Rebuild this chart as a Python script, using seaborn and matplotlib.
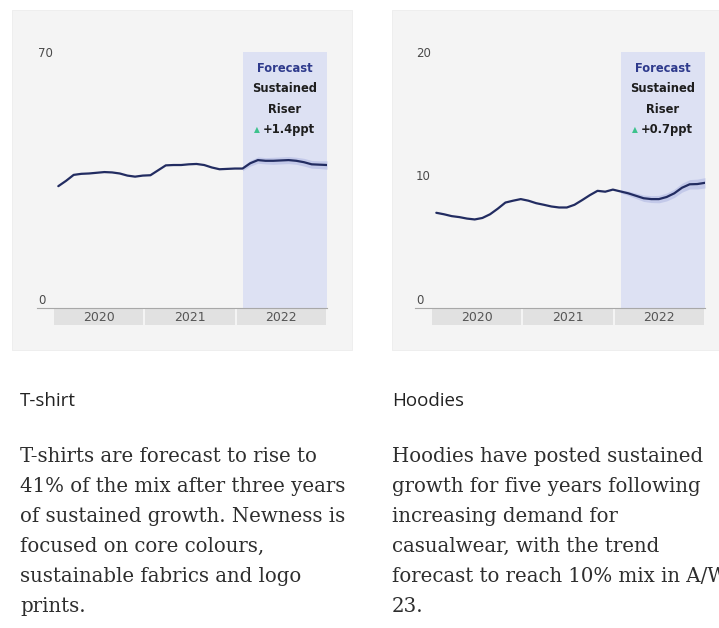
import numpy as np
import pandas as pd
import matplotlib
matplotlib.use("Agg")
import matplotlib.pyplot as plt
from matplotlib.patches import Rectangle
import seaborn as sns

# ---- data -------------------------------------------------------------
years = ["2020", "2021", "2022"]

tshirt_share = [32.3, 33.8, 35.5, 35.8, 35.9, 36.1, 36.3, 36.2, 35.9, 35.3,
                35.0, 35.3, 35.4, 36.8, 38.2, 38.3, 38.3, 38.5, 38.6, 38.3,
                37.6, 37.1, 37.2, 37.3, 37.3, 38.8, 39.7, 39.5, 39.5, 39.6,
                39.7, 39.5, 39.1, 38.5, 38.4, 38.3]
tshirt_spread = [0.6, 0.8, 0.9, 0.9, 1.0, 1.0, 1.0, 1.0, 1.1, 1.1, 1.1, 1.2]

hoodie_share = [7.07, 6.95, 6.80, 6.72, 6.60, 6.53, 6.65, 6.95, 7.40, 7.90,
                8.05, 8.18, 8.05, 7.85, 7.72, 7.58, 7.50, 7.50, 7.72, 8.10,
                8.50, 8.85, 8.78, 8.95, 8.80, 8.65, 8.45, 8.25, 8.18, 8.18,
                8.35, 8.65, 9.10, 9.38, 9.40, 9.50]
hoodie_spread = [0.12, 0.18, 0.22, 0.26, 0.28, 0.30, 0.32, 0.34, 0.36, 0.38, 0.40, 0.42]

tshirt_ticks = [0, 70]
hoodie_ticks = [0, 10, 20]
tshirt_change = "+1.4ppt"
hoodie_change = "+0.7ppt"

titles = ["T-shirt", "Hoodies"]
tshirt_text = ["T-shirts are forecast to rise to",
               "41% of the mix after three years",
               "of sustained growth. Newness is",
               "focused on core colours,",
               "sustainable fabrics and logo",
               "prints."]
hoodie_text = ["Hoodies have posted sustained",
               "growth for five years following",
               "increasing demand for",
               "casualwear, with the trend",
               "forecast to reach 10% mix in A/W",
               "23."]

# ---- style --------------------------------------------------------------
sns.set_theme(style="white")
plt.rcParams["font.family"] = ["DejaVu Sans"]

W, H = 719, 628
fig = plt.figure(figsize=(W / 100, H / 100), dpi=100)
fig.patch.set_facecolor("white")

LINE = "#222c61"
SHADE = "#dde1f3"
BAND = "#aeb6e2"
NAVY = "#2e3a8c"
GREEN = "#3cc28c"
PANEL = "#f4f4f4"
YEARBOX = "#e1e1e1"

months = np.linspace(0.7, 36, 36)   # month index, 0 = start of 2020
fc_start = 24.93                     # forecast period begins early 2022
fc_idx = 24
PX_PER_MONTH = 290 / 38.1


def fx(x):
    return x / W


def fy(y):
    return 1 - y / H


def panel(x0, x1):
    fig.patches.append(Rectangle((fx(x0), fy(350)), fx(x1) - fx(x0), fy(10) - fy(350),
                                 transform=fig.transFigure, facecolor=PANEL,
                                 edgecolor="#ececec", lw=0.6, zorder=-5))


def chart(x0, values, spread, ticks, zero_px, top_px, change):
    ax = fig.add_axes([fx(x0), fy(308), fx(290), (308 - 52) / H])
    ax.set_facecolor("none")
    ax.set_zorder(2)
    # y scale: tick labels sit centred on rows zero_px and top_px
    vmax = ticks[-1]
    ppu = (zero_px - top_px) / vmax
    ax.set_ylim(-(308 - zero_px) / ppu, vmax + (top_px - 52) / ppu)
    ax.set_xlim(-2.1, 36)

    ax.axvspan(fc_start, 36, color=SHADE, lw=0, zorder=1)
    fx_m = months[fc_idx:]
    fv = np.array(values[fc_idx:])
    sp = np.array(spread)
    ax.fill_between(fx_m, fv - sp, fv + sp, color=BAND, alpha=0.55, lw=0, zorder=2)

    df = pd.DataFrame({"month": months, "share": values})
    sns.lineplot(data=df, x="month", y="share", ax=ax, color=LINE, lw=1.6, zorder=3)

    ax.set_xticks([])
    ax.set_yticks([])
    ax.set_xlabel("")
    ax.set_ylabel("")
    for s in ["top", "right", "left"]:
        ax.spines[s].set_visible(False)
    ax.spines["bottom"].set_color("#a8a8a8")
    ax.spines["bottom"].set_linewidth(0.8)

    tr = ax.get_yaxis_transform()
    for t in ticks:
        ax.text(0.003, t, str(t), transform=tr,
                ha="left", va="center", fontsize=8.5, color="#4a4a4a")

    # year strip beneath the axis
    xt = ax.get_xaxis_transform()
    h_ax = (308 - 52)
    for i, yr in enumerate(years):
        ax.add_patch(Rectangle((i * 12 + 0.15, -17 / h_ax), 12 - 0.3, 16 / h_ax,
                               transform=xt, facecolor=YEARBOX, lw=0, clip_on=False))
        ax.text(i * 12 + 6, -9.5 / h_ax, yr, transform=xt, ha="center", va="center",
                fontsize=9, color="#555555")

    # forecast annotation
    cx = (fc_start + 36) / 2
    ax.text(cx, 1 - 17 / h_ax, "Forecast", transform=xt, ha="center", va="center",
            fontsize=8.3, fontweight="bold", color=NAVY)
    ax.text(cx, 1 - 37 / h_ax, "Sustained", transform=xt, ha="center", va="center",
            fontsize=8.3, fontweight="bold", color="#1e1e1e")
    ax.text(cx, 1 - 57.5 / h_ax, "Riser", transform=xt, ha="center", va="center",
            fontsize=8.3, fontweight="bold", color="#1e1e1e")
    ax.text(cx - 22 / PX_PER_MONTH, 1 - 77.5 / h_ax, change, transform=xt,
            ha="left", va="center", fontsize=8.3, fontweight="bold", color="#1e1e1e")
    ax.text(cx - 27.5 / PX_PER_MONTH, 1 - 77.5 / h_ax, "\u25b2", transform=xt,
            ha="center", va="center", fontsize=5.5, color=GREEN)
    return ax


panel(12, 352)
panel(392, 760)

chart(37, tshirt_share, tshirt_spread, tshirt_ticks, 300, 53.3, tshirt_change)
chart(415, hoodie_share, hoodie_spread, hoodie_ticks, 300, 53.3, hoodie_change)

# headings and descriptions
for x0, title, body in [(20, titles[0], tshirt_text), (392, titles[1], hoodie_text)]:
    fig.text(fx(x0), fy(401), title, ha="left", va="center", fontsize=13.5,
             color="#222222", family=["Open Sans", "DejaVu Sans"])
    for k, line in enumerate(body):
        fig.text(fx(x0), fy(456 + k * 30.2), line, ha="left", va="center",
                 fontsize=14.2, color="#2e2e2e", family=["DejaVu Serif"])

fig.savefig("out.png", dpi=100, facecolor="white")
